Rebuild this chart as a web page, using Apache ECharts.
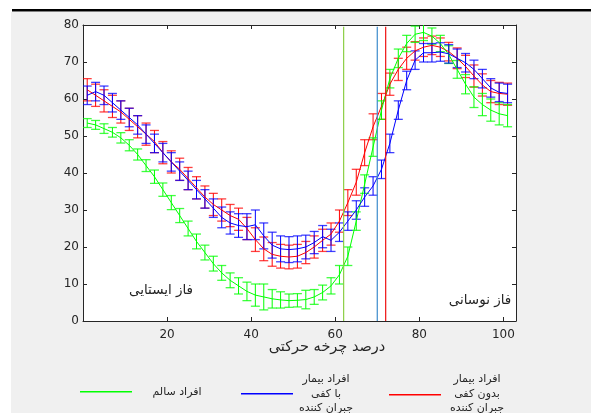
<!DOCTYPE html>
<html><head><meta charset="utf-8">
<script src="https://cdn.jsdelivr.net/npm/echarts@6/dist/echarts.min.js"></script>
<style>html,body{margin:0;padding:0;background:#fff;}#c{width:591px;height:413px;}</style>
</head><body><div id="c"></div>
<script>
// ---- data ----
const xValues = [1,3,5,7,9,11,13,15,17,19,21,23,25,27,29,31,33,35,37,39,41,43,45,47,49,51,53,55,57,59,61,63,65,67,69,71,73,75,77,79,81,83,85,87,89,91,93,95,97,99,101];
const healthyMean = [53.5,53,52,51,49.5,47.5,45,42,39,35.5,32,28.5,25,21.5,18.5,15.5,13,11,9.5,8,7,6.5,6,5.7,5.5,5.6,5.8,6.5,7.7,9.5,12.5,17.5,27,37,47,57,65.5,71,75,77.5,78,77,75,72,68,64,60.5,58.5,57,56,55.5];
const healthyErr = [1.2,1.2,1.3,1.3,1.4,1.5,1.5,1.6,1.8,1.8,1.9,1.9,2,2,2,2,2,2,2.2,2.5,3,3.5,2.5,2.2,1.8,1.8,2.5,2,2,2.2,2.5,2.5,2.5,2.5,2.5,2.5,2.5,2.5,2.2,2.2,2.2,2.2,2.2,2.4,2.4,2.6,2.8,3,3,3,3];
const noInsoleMean = [62.5,61,59.5,58,56.5,54.5,52.5,50.5,48.5,45.5,43,41,38.5,36,33.5,31.5,30,28.5,27.5,25,22,19.5,18,17.5,17.3,17.5,18.5,20,21.8,23.5,27,32,37.5,45.5,52.5,58,64,68,71,73,74,74.5,74,72.8,71,68.8,66.2,63.8,62,61.5,61.3];
const noInsoleErr = [3,3,3,3,3,3,3,3,3,3,3,3,3,3,3,3,3,3,3,3,3.2,3.2,3.2,3.2,3.2,3.2,3,3,3,3,3,3.5,3.5,3.5,3.5,3.5,3,3,3,2.5,2.5,2.5,2.5,2.5,2.8,3,3,3,3,3,3];
const insoleMean = [61,62,61,59,57,55,53,50.5,48,45.5,43,40.5,38,35.5,33,30.5,28,26.5,25.8,25.5,26,23,20.5,19.5,19.3,19.5,20,21.2,22.8,21.8,24,27,30,33.5,36.5,41,48,57,65,70.5,72.5,72.5,72.7,72.2,71,69.8,68,65.5,63,61.8,61.5];
const insoleErr = [2.5,2.5,2.5,2.5,2.5,2.5,2.5,2.5,2.5,2.5,2.5,2.5,2.5,2.5,2.5,2.5,2.8,3,3.2,3.5,4,3.5,3.5,3.5,3.5,3.5,3.2,3,3,3,2.5,2.5,2.5,2.5,2.5,2.5,2.5,2.5,2.5,2.5,2.5,2.5,2.5,2.5,2.5,2.5,2.5,2.5,2.5,2.5,2.5];
const phaseLines = [62, 70, 72];       // x positions of vertical markers
const phaseLineColors = ['#8ccf45', '#3d8ccc', '#ee1111'];
const xTicks = [20,40,60,80,100];
const yTicks = [0,10,20,30,40,50,60,70,80];
const nameHealthy = 'افراد سالم';
const nameInsole = 'افراد بیمار\nبا کفی\nجبران کننده';
const nameNoInsole = 'افراد بیمار\nبدون کفی\nجبران کننده';
const xLabel = 'درصد چرخه حرکتی';
const stanceText = 'فاز ایستایی';
const swingText = 'فاز نوسانی';

// ---- helpers ----
function errData(mean, err){ return xValues.map((x,i)=>[x, mean[i]-err[i], mean[i]+err[i]]); }
function lineData(mean){ return xValues.map((x,i)=>[x, mean[i]]); }
function errSeries(mean, err, color){
  return {type:'custom', clip:true, silent:true, z:3, data: errData(mean, err), encode:{x:0,y:[1,2]},
    renderItem:function(params, api){
      const x = api.value(0);
      const p1 = api.coord([x, api.value(1)]), p2 = api.coord([x, api.value(2)]);
      const hw = 4.5;
      const st = {stroke: color, lineWidth: 1};
      const cap = {stroke: color, lineWidth: 1.3, opacity: 0.75};
      return {type:'group', children:[
        {type:'line', shape:{x1:p1[0],y1:p1[1],x2:p2[0],y2:p2[1]}, style:st},
        {type:'line', shape:{x1:p1[0]-hw,y1:p1[1],x2:p1[0]+hw,y2:p1[1]}, style:cap},
        {type:'line', shape:{x1:p2[0]-hw,y1:p2[1],x2:p2[0]+hw,y2:p2[1]}, style:cap}
      ]};
    }};
}
function meanSeries(name, mean, color){
  return {type:'line', name:name, data: lineData(mean), showSymbol:false, symbol:'none', z:4,
    lineStyle:{color:color, width:1}, itemStyle:{color:color}, animation:false};
}

const axisColor = '#262626';
const tickFont = {fontFamily:'DejaVu Sans', fontSize:12, color:'#262626'};
const faFont = 'DejaVu Sans';
const axLine = {show:true, onZero:false, lineStyle:{color:axisColor, width:1}};
const axTick = {show:true, inside:true, length:4, lineStyle:{color:axisColor}};

const series = [
  errSeries(noInsoleMean, noInsoleErr, '#ff0000'),
  meanSeries(nameNoInsole, noInsoleMean, '#ff0000'),
  errSeries(healthyMean, healthyErr, '#00ff00'),
  meanSeries(nameHealthy, healthyMean, '#00ff00'),
  errSeries(insoleMean, insoleErr, '#0000ff'),
  meanSeries(nameInsole, insoleMean, '#0000ff')
];
phaseLines.forEach((v,i)=>{
  series.push({type:'line', data:[[v,0],[v,79.5]], showSymbol:false, symbol:'none', z:5, silent:true,
    lineStyle:{color:phaseLineColors[i], width:1.2}});
});

const chart = echarts.init(document.getElementById('c'), null, {renderer:'canvas'});
chart.setOption({
  animation:false,
  grid:{left:83, top:25, right:75, bottom:92, show:true, backgroundColor:'#ffffff', borderWidth:0, containLabel:false},
  xAxis:[{type:'value', min:0, max:103, interval:20, position:'bottom',
      axisLine:axLine, splitLine:{show:false}, axisTick:axTick,
      axisLabel:Object.assign({margin:8, formatter:v=> (xTicks.indexOf(v)>=0 ? String(v) : '')}, tickFont)},
    {type:'value', min:0, max:103, interval:20, position:'top',
      axisLine:axLine, splitLine:{show:false}, axisTick:axTick, axisLabel:{show:false}}],
  yAxis:[{type:'value', min:0, max:80, interval:10, position:'left',
      axisLine:axLine, splitLine:{show:false}, axisTick:axTick,
      axisLabel:Object.assign({margin:4, formatter:v=> (yTicks.indexOf(v)>=0 ? String(v) : '')}, tickFont)},
    {type:'value', min:0, max:80, interval:10, position:'right',
      axisLine:axLine, splitLine:{show:false}, axisTick:axTick, axisLabel:{show:false}}],
  legend:[
    {data:[nameHealthy], left:80, top:391, icon:'rect', itemWidth:52, itemHeight:1.5, formatter:()=>'', padding:0, selectedMode:false},
    {data:[nameInsole], left:241, top:393, icon:'rect', itemWidth:52, itemHeight:1.5, formatter:()=>'', padding:0, selectedMode:false},
    {data:[nameNoInsole], left:389, top:394, icon:'rect', itemWidth:52, itemHeight:1.5, formatter:()=>'', padding:0, selectedMode:false}
  ],
  graphic:[
    {type:'rect', z:-10, silent:true, shape:{x:11, y:12, width:580, height:401}, style:{fill:'#f0f0f0'}},
    {type:'rect', z:-9, silent:true, shape:{x:12, y:9, width:579, height:2.5}, style:{fill:'#000000'}},
    {type:'text', x:161, y:290, style:{text:stanceText, fontFamily:faFont, fontSize:13.5, fill:'#262626', align:'center', verticalAlign:'middle'}},
    {type:'text', x:480, y:300, style:{text:swingText, fontFamily:faFont, fontSize:13.5, fill:'#262626', align:'center', verticalAlign:'middle'}},
    {type:'text', x:327, y:347, style:{text:xLabel, fontFamily:faFont, fontSize:14.5, fill:'#262626', align:'center', verticalAlign:'middle'}},
    {type:'text', x:177, y:392, style:{text:nameHealthy, fontFamily:faFont, fontSize:11, fill:'#262626', align:'center', verticalAlign:'middle'}},
    {type:'text', x:326, y:394, style:{text:nameInsole, fontFamily:faFont, fontSize:11, lineHeight:14.5, fill:'#262626', align:'center', verticalAlign:'middle'}},
    {type:'text', x:477, y:394, style:{text:nameNoInsole, fontFamily:faFont, fontSize:11, lineHeight:14.5, fill:'#262626', align:'center', verticalAlign:'middle'}}
  ],
  series: series
});
</script></body></html>
